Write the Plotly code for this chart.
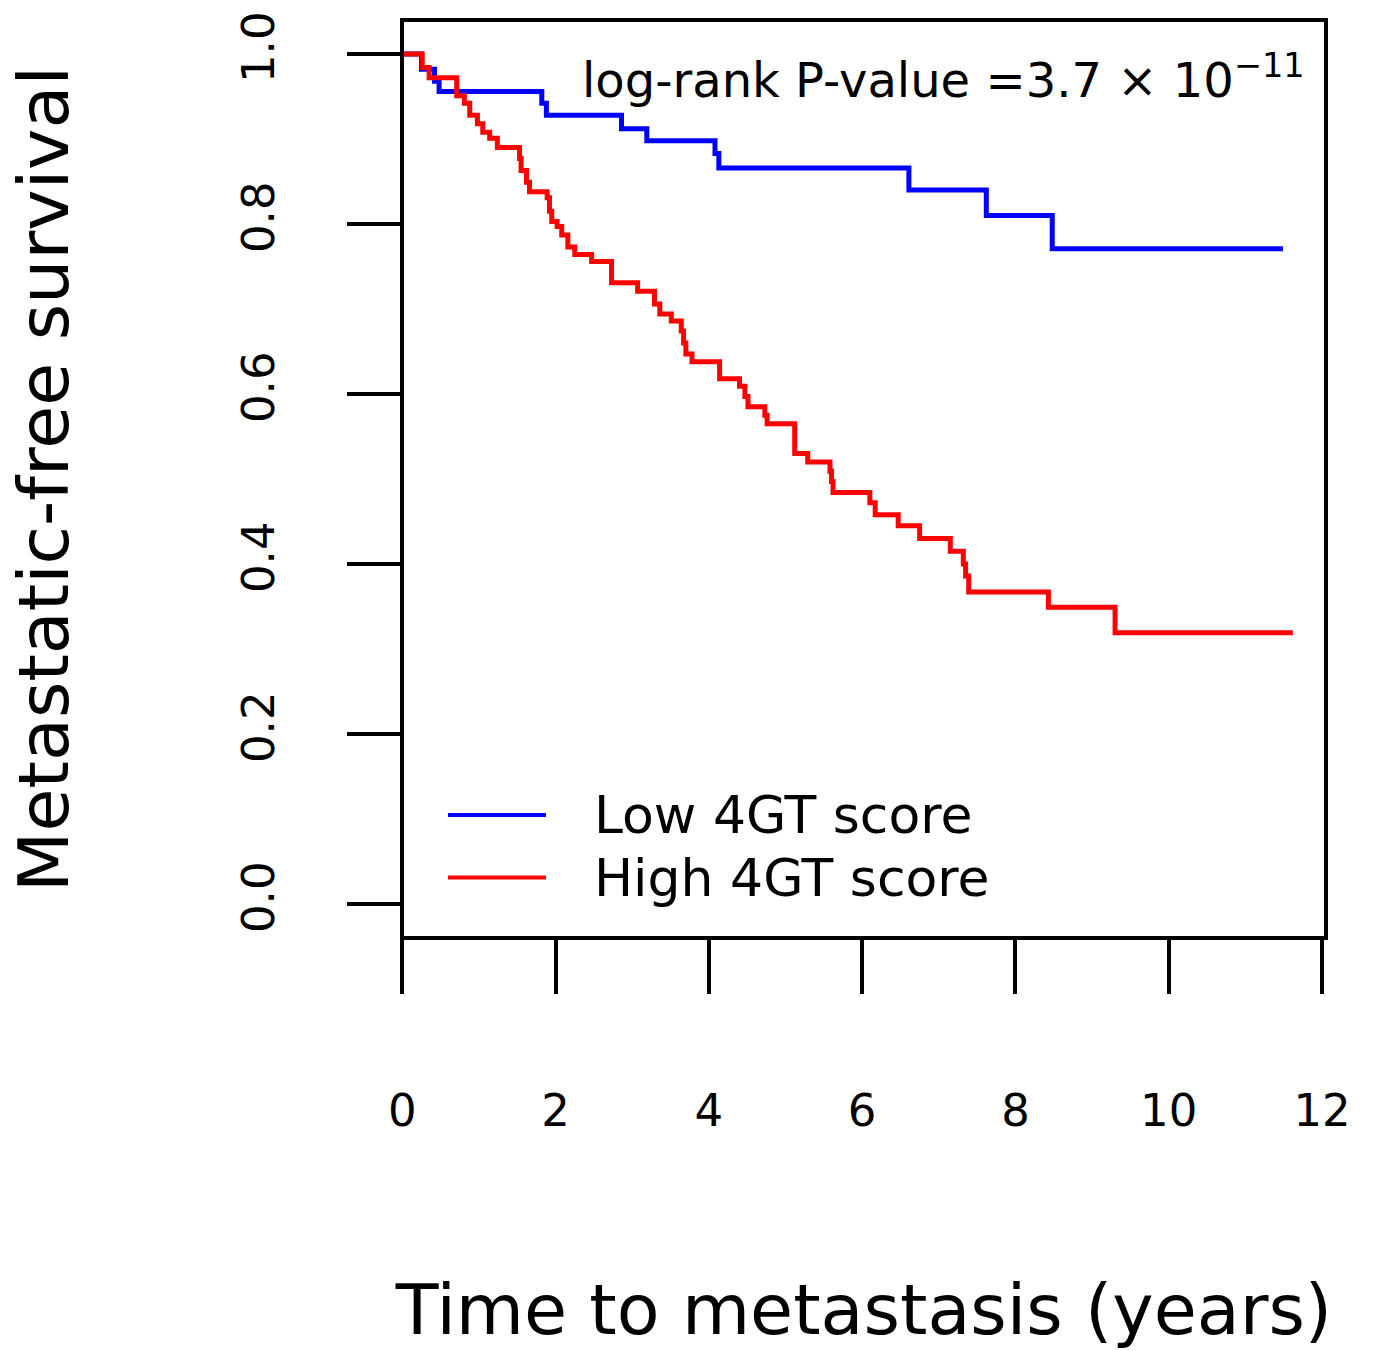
import plotly.graph_objects as go

# ---------------- data ----------------
low_times = [0.25, 0.42, 0.48, 1.82, 1.88, 2.86, 3.19, 4.08, 4.13, 6.61, 7.62, 8.48]
low_surv = [0.982, 0.968, 0.956, 0.942, 0.928, 0.912, 0.898, 0.883, 0.866, 0.840, 0.810, 0.771]
low_last_followup = 11.49

high_times = [0.26, 0.35, 0.71, 0.81, 0.88, 0.98, 1.05, 1.14, 1.24, 1.53, 1.55, 1.62, 1.66,
              1.89, 1.92, 1.95, 2.02, 2.08, 2.16, 2.25, 2.47, 2.73, 3.07, 3.29, 3.36, 3.51,
              3.64, 3.67, 3.70, 3.78, 4.14, 4.40, 4.47, 4.51, 4.73, 4.76, 5.12, 5.29, 5.58,
              5.60, 5.62, 6.10, 6.17, 6.47, 6.75, 7.15, 7.32, 7.35, 7.39, 8.43, 9.30]
high_surv = [0.984, 0.972, 0.951, 0.942, 0.928, 0.918, 0.908, 0.901, 0.890, 0.877, 0.863, 0.849, 0.838,
             0.831, 0.815, 0.803, 0.797, 0.787, 0.773, 0.764, 0.756, 0.731, 0.721, 0.706, 0.694, 0.686,
             0.674, 0.660, 0.647, 0.638, 0.618, 0.609, 0.597, 0.585, 0.575, 0.565, 0.530, 0.520, 0.509,
             0.497, 0.484, 0.472, 0.458, 0.445, 0.430, 0.415, 0.400, 0.386, 0.367, 0.349, 0.319]
high_last_followup = 11.62

series_names = ["Low 4GT score", "High 4GT score"]
series_colors = ["#0000ff", "#ff0000"]
x_ticks = [0, 2, 4, 6, 8, 10, 12]
y_ticks = [0.0, 0.2, 0.4, 0.6, 0.8, 1.0]
y_tick_labels = ["0.0", "0.2", "0.4", "0.6", "0.8", "1.0"]
x_title = "Time to metastasis (years)"
y_title = "Metastatic-free survival"
pvalue_text = "log-rank P-value =3.7 × 10<sup>−11</sup>"

# ---------------- figure ----------------
FONT = "DejaVu Sans"
W, H = 1373, 1351
L, R, T, B = 402, 47, 12, 413

def km_xy(times, surv, last):
    xs = [0.0] + list(times) + [last]
    ys = [1.0] + list(surv) + [surv[-1]]
    return xs, ys

fig = go.Figure()
for (times, surv, last), name, color in zip(
        [(low_times, low_surv, low_last_followup), (high_times, high_surv, high_last_followup)],
        series_names, series_colors):
    xs, ys = km_xy(times, surv, last)
    fig.add_trace(go.Scatter(x=xs, y=ys, mode="lines", line=dict(color=color, width=5, shape="hv"),
                             name=name, showlegend=False))

pw = W - L - R
ph = H - T - B

def px_x(p):
    return (p - L) / pw

def px_y(p):
    return (H - B - p) / ph

shapes = [dict(type="rect", xref="paper", yref="paper", x0=0, x1=1, y0=0, y1=1,
               line=dict(color="black", width=4))]
annotations = []
legend_rows_px = [814, 877]
for name, color, ypx in zip(series_names, series_colors, legend_rows_px):
    shapes.append(dict(type="line", xref="paper", yref="paper",
                       x0=px_x(448), x1=px_x(546), y0=px_y(ypx), y1=px_y(ypx),
                       line=dict(color=color, width=4)))
    annotations.append(dict(xref="paper", yref="paper", x=px_x(592), y=px_y(ypx),
                            xanchor="left", yanchor="middle", showarrow=False, text=name,
                            font=dict(family=FONT, size=52, color="black")))

annotations.append(dict(xref="paper", yref="paper", x=px_x(580), y=px_y(69),
                        xanchor="left", yanchor="middle", showarrow=False, text=pvalue_text,
                        font=dict(family=FONT, size=48, color="black")))

fig.update_layout(
    width=W, height=H,
    margin=dict(l=L, r=R, t=T, b=B, pad=0),
    paper_bgcolor="white", plot_bgcolor="white",
    font=dict(family=FONT, color="black"),
    shapes=shapes, annotations=annotations,
    showlegend=False,
)
fig.update_xaxes(range=[-0.004, 12.052], tickvals=x_ticks, ticktext=[str(v) for v in x_ticks],
                 ticks="outside", ticklen=55, tickwidth=4, tickcolor="black",
                 showgrid=False, zeroline=False, showline=False,
                 tickfont=dict(family=FONT, size=45, color="black"), ticklabelstandoff=78,
                 title=dict(text=x_title, font=dict(family=FONT, size=70, color="black"), standoff=150))
fig.update_yaxes(range=[-0.04, 1.04], tickvals=y_ticks, ticktext=y_tick_labels, tickangle=-90,
                 ticks="outside", ticklen=54, tickwidth=4, tickcolor="black",
                 showgrid=False, zeroline=False, showline=False,
                 tickfont=dict(family=FONT, size=45, color="black"), ticklabelstandoff=55,
                 title=dict(text=y_title, font=dict(family=FONT, size=70, color="black"), standoff=140))

fig.write_html("out.html")
